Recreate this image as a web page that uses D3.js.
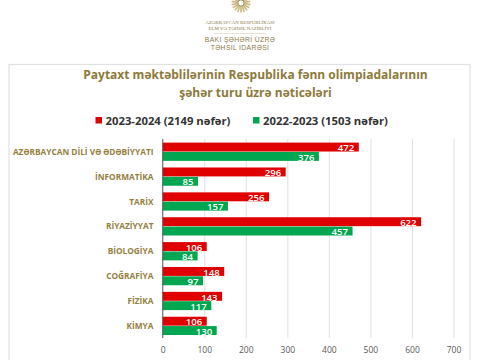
<!DOCTYPE html>
<html>
<head>
<meta charset="utf-8">
<script src="https://cdn.jsdelivr.net/npm/d3@7"></script>
<style>
  html, body { margin: 0; padding: 0; background: #fff; }
  text { font-family: "Open Sans", sans-serif; }
</style>
</head>
<body>
<svg id="chart" width="480" height="360"></svg>
<script>
const categories = ["AZƏRBAYCAN DİLİ VƏ ƏDƏBİYYATI", "İNFORMATİKA", "TARİX", "RİYAZİYYAT", "BİOLOGİYA", "COĞRAFİYA", "FİZİKA", "KİMYA"];
const values2324 = [472, 296, 256, 622, 106, 148, 143, 106];
const values2223 = [376, 85, 157, 457, 84, 97, 117, 130];
const seriesNames = ["2023-2024 (2149 nəfər)", "2022-2023 (1503 nəfər)"];
const xTicks = [0, 100, 200, 300, 400, 500, 600, 700];
const titleLines = ["Paytaxt məktəblilərinin Respublika fənn olimpiadalarının", "şəhər turu üzrə nəticələri"];
const logoSmall = ["AZƏRBAYCAN RESPUBLİKASI", "ELM VƏ TƏHSİL NAZİRLİYİ"];
const logoBig = ["BAKI ŞƏHƏRİ ÜZRƏ", "TƏHSİL İDARƏSİ"];

const red = "#e00000", green = "#00a650", gold = "#94803f", titleGold = "#8d7a3a";

const svg = d3.select("#chart");

// frame of the chart
svg.append("rect")
  .attr("x", 9).attr("y", 64.5).attr("width", 461).attr("height", 300)
  .attr("fill", "#fff").attr("stroke", "#e2e2e2").attr("stroke-width", 1.2);

// logo: rough seal + ministry text
const seal = svg.append("g").attr("transform", "translate(241,3)");
seal.selectAll("line")
  .data(d3.range(0, 360, 20))
  .join("line")
  .attr("x1", 0).attr("y1", -3.5).attr("x2", 0).attr("y2", -9.5)
  .attr("transform", d => `rotate(${d})`)
  .attr("stroke", "#cdbb85").attr("stroke-width", 1.7);
seal.append("circle").attr("r", 3.2).attr("fill", "#fff").attr("stroke", "#8d8550").attr("stroke-width", 1);

svg.selectAll(".logo-small")
  .data(logoSmall)
  .join("text")
  .attr("class", "logo-small")
  .attr("x", 240).attr("y", (d, i) => 23.5 + i * 6.5)
  .attr("text-anchor", "middle")
  .style("font-family", "'Liberation Serif', serif")
  .attr("font-size", 4.9).attr("fill", "#8a7a4a")
  .text(d => d);
svg.append("line")
  .attr("x1", 214).attr("x2", 266).attr("y1", 33.5).attr("y2", 33.5)
  .attr("stroke", "#cfc6a6").attr("stroke-width", 0.5);
svg.selectAll(".logo-big")
  .data(logoBig)
  .join("text")
  .attr("class", "logo-big")
  .attr("x", 240).attr("y", (d, i) => 41.5 + i * 8)
  .attr("text-anchor", "middle")
  .style("font-family", "'Liberation Sans', sans-serif")
  .style("letter-spacing", "0.35px")
  .attr("font-size", 6.8).attr("fill", "#8a7a4a")
  .text(d => d);

// title
svg.selectAll(".title")
  .data(titleLines)
  .join("text")
  .attr("class", "title")
  .attr("x", 255.5).attr("y", (d, i) => 79 + i * 17.7)
  .attr("text-anchor", "middle")
  .attr("font-size", 12).attr("font-weight", 700).attr("fill", titleGold)
  .text(d => d);

// legend
const legend = svg.selectAll(".legend")
  .data(seriesNames)
  .join("g")
  .attr("class", "legend")
  .attr("transform", (d, i) => `translate(${[95.5, 253][i]},0)`);
legend.append("rect")
  .attr("y", 117).attr("width", 6.5).attr("height", 6.5)
  .attr("fill", (d, i) => [red, green][i]);
legend.append("text")
  .attr("x", 10).attr("y", 124.5)
  .attr("font-size", 11.3).attr("font-weight", 700).attr("fill", "#333")
  .text(d => d);

// scales
const x = d3.scaleLinear().domain([0, 700]).range([162.7, 453.5]);
const y = d3.scaleBand().domain(categories).range([139.5, 338.5]).paddingInner(0.25).paddingOuter(0.125);
const ySeries = d3.scaleBand().domain([0, 1]).range([0, y.bandwidth()]).padding(0);

// x axis with gridlines
const xAxis = svg.append("g")
  .attr("transform", "translate(0,338)")
  .call(d3.axisBottom(x).tickValues(xTicks).tickSize(-199).tickPadding(9));
xAxis.select(".domain").remove();
xAxis.selectAll("line").attr("stroke", "#d9d9d9").attr("stroke-width", 0.8);
xAxis.selectAll("text").attr("font-size", 8.5).attr("fill", "#595959")
  .style("font-family", "'Open Sans', sans-serif");

// bars
const rows = svg.selectAll(".row")
  .data(categories)
  .join("g")
  .attr("class", "row")
  .attr("transform", d => `translate(0,${y(d)})`);

[values2324, values2223].forEach((vals, s) => {
  rows.append("rect")
    .attr("x", x(0))
    .attr("y", ySeries(s))
    .attr("width", (d, i) => x(vals[i]) - x(0))
    .attr("height", ySeries.bandwidth() - 0.4)
    .attr("fill", [red, green][s]);
  rows.append("text")
    .attr("x", (d, i) => x(vals[i]) - 4.5)
    .attr("y", ySeries(s) + ySeries.bandwidth() / 2 + 4)
    .attr("text-anchor", "end")
    .attr("font-size", 9.6).attr("font-weight", 600).attr("fill", "#fff")
    .text((d, i) => vals[i]);
});

// category labels
rows.append("text")
  .attr("x", 153.5)
  .attr("y", y.bandwidth() / 2 + 2.9)
  .attr("text-anchor", "end")
  .attr("font-size", 8.3).attr("font-weight", 700).attr("fill", gold)
  .text(d => d);

// category axis line
svg.append("line")
  .attr("x1", x(0)).attr("x2", x(0)).attr("y1", 139).attr("y2", 338)
  .attr("stroke", "#555").attr("stroke-width", 0.9);
</script>
</body>
</html>
